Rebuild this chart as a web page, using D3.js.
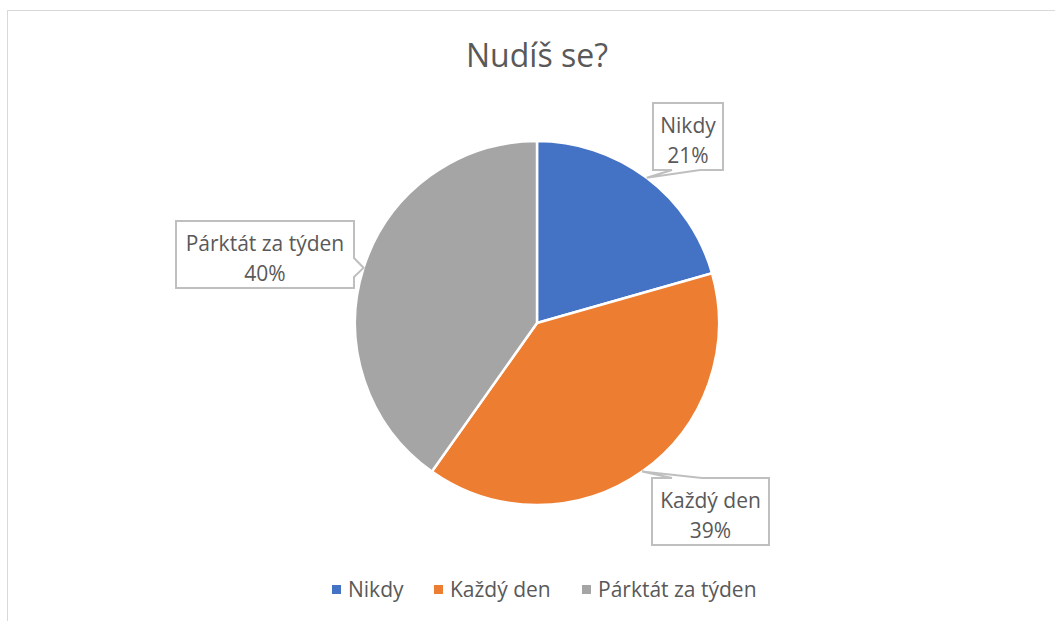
<!DOCTYPE html>
<html>
<head>
<meta charset="utf-8">
<script src="https://cdn.jsdelivr.net/npm/d3@7"></script>
<style>
  html, body { margin: 0; padding: 0; background: #fff; }
  text { font-family: "Open Sans", "Liberation Sans", sans-serif; fill: #595959; }
</style>
</head>
<body>
<svg id="chart" width="1055" height="621"></svg>
<script>
const title = "Nudíš se?";
const categories = ["Nikdy", "Každý den", "Párktát za týden"];
const values = [20.6, 39.2, 40.2];
const colors = ["#4472C4", "#ED7D31", "#A5A5A5"];

const W = 1055, H = 621;
const svg = d3.select("#chart");
svg.append("rect").attr("width", W).attr("height", H).attr("fill", "#fff");
svg.append("rect").attr("x", 7.5).attr("y", 10.5).attr("width", 1200).attr("height", 800)
  .attr("fill", "none").attr("stroke", "#d9d9d9").attr("stroke-width", 1);

svg.append("text").attr("x", 537).attr("y", 67).attr("text-anchor", "middle")
  .style("font-size", "32px").text(title);

const cx = 537, cy = 323, R = 182;
const g = svg.append("g").attr("transform", `translate(${cx},${cy})`);
const pie = d3.pie().sort(null).value(d => d);
const arcs = pie(values);
const arc = d3.arc().innerRadius(0).outerRadius(R);
g.selectAll("path.slice").data(arcs).enter().append("path")
  .attr("class", "slice")
  .attr("d", arc)
  .attr("fill", (d, i) => colors[i])
  .attr("stroke", "#fff").attr("stroke-width", 2.5).attr("stroke-linejoin", "round");

const total = d3.sum(values);
const fmt = v => Math.round(v / total * 100) + "%";

// callout layout (box in absolute coords, wedge side and base range)
const callouts = [
  { x: 653, y: 103, w: 70, h: 67, side: "bottom", a: 672, b: 700 },
  { x: 652, y: 478, w: 117, h: 67, side: "top", a: 672, b: 702 },
  { x: 176, y: 221, w: 178, h: 67, side: "right", a: 258, b: 277 }
];

function calloutPath(c, tip) {
  const x0 = c.x, y0 = c.y, x1 = c.x + c.w, y1 = c.y + c.h;
  const p = d3.path();
  p.moveTo(x0, y0);
  if (c.side === "top") { p.lineTo(c.a, y0); p.lineTo(tip[0], tip[1]); p.lineTo(c.b, y0); }
  p.lineTo(x1, y0);
  if (c.side === "right") { p.lineTo(x1, c.a); p.lineTo(tip[0], tip[1]); p.lineTo(x1, c.b); }
  p.lineTo(x1, y1);
  if (c.side === "bottom") { p.lineTo(c.b, y1); p.lineTo(tip[0], tip[1]); p.lineTo(c.a, y1); }
  p.lineTo(x0, y1);
  p.closePath();
  return p.toString();
}

arcs.forEach((d, i) => {
  const mid = (d.startAngle + d.endAngle) / 2;
  const tip = [cx + R * Math.sin(mid), cy - R * Math.cos(mid)];
  const c = callouts[i];
  svg.append("path").attr("d", calloutPath(c, tip))
    .attr("fill", "#fff").attr("stroke", "#bfbfbf").attr("stroke-width", 2)
    .attr("stroke-linejoin", "miter");
  const tx = c.x + c.w / 2, ty = c.y + c.h / 2;
  svg.append("text").attr("x", tx).attr("y", ty - 4).attr("text-anchor", "middle")
    .style("font-size", "21px").text(categories[i]);
  svg.append("text").attr("x", tx).attr("y", ty + 26).attr("text-anchor", "middle")
    .style("font-size", "21px").text(fmt(values[i]));
});

// legend
const legendX = [332, 434, 582];
const lg = svg.append("g");
categories.forEach((c, i) => {
  lg.append("rect").attr("x", legendX[i]).attr("y", 585).attr("width", 9).attr("height", 9)
    .attr("fill", colors[i]);
  lg.append("text").attr("x", legendX[i] + 16).attr("y", 597)
    .style("font-size", "21px").text(c);
});
</script>
</body>
</html>
